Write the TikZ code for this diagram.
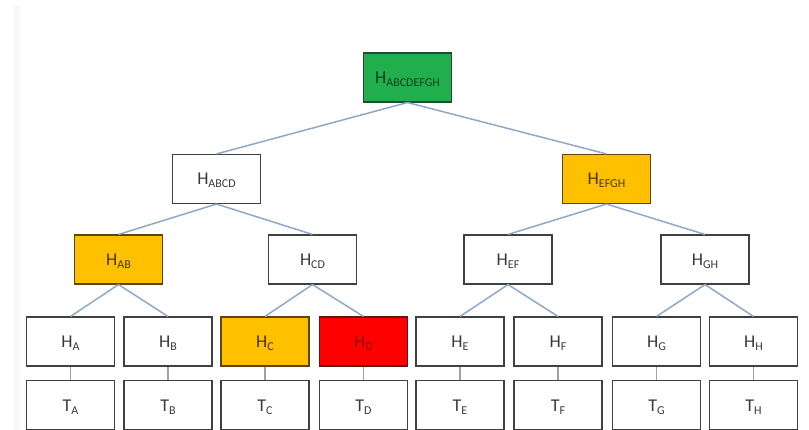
\documentclass[tikz,border=0pt]{standalone}
\usepackage{fontspec}
\setmainfont{Carlito}
\definecolor{boxline}{HTML}{404040}
\definecolor{linkc}{HTML}{8FA9C9}
\definecolor{stemc}{HTML}{9AA3AD}
\definecolor{txt}{HTML}{3A3A3A}
\definecolor{greenfill}{HTML}{20AF4C}
\definecolor{greenline}{HTML}{1D4D2C}
\definecolor{greentxt}{HTML}{0E3F1C}
\definecolor{orangefill}{HTML}{FFC000}
\definecolor{orangeline}{HTML}{5C4614}
\definecolor{orangetxt}{HTML}{4A380C}
\definecolor{redfill}{HTML}{FF0000}
\definecolor{redline}{HTML}{5A1A1A}
\definecolor{redtxt}{HTML}{8C0A0A}
% hash label: main letter with a lowered, smaller subscript
\newcommand\hlab[2]{#1\raisebox{-3pt}{\fontsize{12}{12}\selectfont #2}}
\begin{document}
\begin{tikzpicture}[x=1pt,y=-1pt,
  hbox/.style={draw=boxline, line width=1.1pt, fill=white, minimum width=88pt,
    minimum height=49pt, inner sep=0pt, text height=12pt, text depth=0pt,
    font=\fontsize{18}{18}\selectfont, text=txt},
  greenbox/.style={hbox, fill=greenfill, draw=greenline, text=greentxt},
  orangebox/.style={hbox, fill=orangefill, draw=orangeline, text=orangetxt},
  redbox/.style={hbox, fill=redfill, draw=redline, text=redtxt},
  link/.style={draw=linkc, line width=1.5pt},
  stem/.style={draw=stemc, line width=1.2pt}]
\useasboundingbox (0,0) rectangle (809,430);
\fill[white] (0,0) rectangle (809,430);
\fill[black!3] (14,6) rectangle (20,430);

% root and inner nodes
\node[greenbox]  (r)    at (407.5,77.5)  {\hlab{H}{ABCDEFGH}};
\node[hbox]      (abcd) at (216.5,179)   {\hlab{H}{ABCD}};
\node[orangebox] (efgh) at (606.5,179)   {\hlab{H}{EFGH}};
\node[orangebox] (ab)   at (118.5,259.5) {\hlab{H}{AB}};
\node[hbox]      (cd)   at (312.5,259.5) {\hlab{H}{CD}};
\node[hbox]      (ef)   at (508,259.5)   {\hlab{H}{EF}};
\node[hbox]      (gh)   at (705,259.5)   {\hlab{H}{GH}};

% leaf hashes
\node[hbox]      (ha) at (70.5,341.5)  {\hlab{H}{A}};
\node[hbox]      (hb) at (168,341.5)   {\hlab{H}{B}};
\node[orangebox] (hc) at (265,341.5)   {\hlab{H}{C}};
\node[redbox]    (hd) at (363.5,341.5) {\hlab{H}{D}};
\node[hbox]      (he) at (460,341.5)   {\hlab{H}{E}};
\node[hbox]      (hf) at (558,341.5)   {\hlab{H}{F}};
\node[hbox]      (hg) at (656.5,341.5) {\hlab{H}{G}};
\node[hbox]      (hh) at (753.5,341.5) {\hlab{H}{H}};

% transactions
\node[hbox] (ta) at (70.5,405)  {\hlab{T}{A}};
\node[hbox] (tb) at (168,405)   {\hlab{T}{B}};
\node[hbox] (tc) at (265,405)   {\hlab{T}{C}};
\node[hbox] (td) at (363.5,405) {\hlab{T}{D}};
\node[hbox] (te) at (460,405)   {\hlab{T}{E}};
\node[hbox] (tf) at (558,405)   {\hlab{T}{F}};
\node[hbox] (tg) at (656.5,405) {\hlab{T}{G}};
\node[hbox] (th) at (753.5,405) {\hlab{T}{H}};

% tree links
\draw[link] (r.south) -- (abcd.north);
\draw[link] (r.south) -- (efgh.north);
\draw[link] (abcd.south) -- (ab.north);
\draw[link] (abcd.south) -- (cd.north);
\draw[link] (efgh.south) -- (ef.north);
\draw[link] (efgh.south) -- (gh.north);
\draw[link] (ab.south) -- (ha.north);
\draw[link] (ab.south) -- (hb.north);
\draw[link] (cd.south) -- (hc.north);
\draw[link] (cd.south) -- (hd.north);
\draw[link] (ef.south) -- (he.north);
\draw[link] (ef.south) -- (hf.north);
\draw[link] (gh.south) -- (hg.north);
\draw[link] (gh.south) -- (hh.north);

% leaf to transaction stems
\foreach \a/\b in {ha/ta,hb/tb,hc/tc,hd/td,he/te,hf/tf,hg/tg,hh/th}
  \draw[stem] (\a.south) -- (\b.north);
\end{tikzpicture}
\end{document}
